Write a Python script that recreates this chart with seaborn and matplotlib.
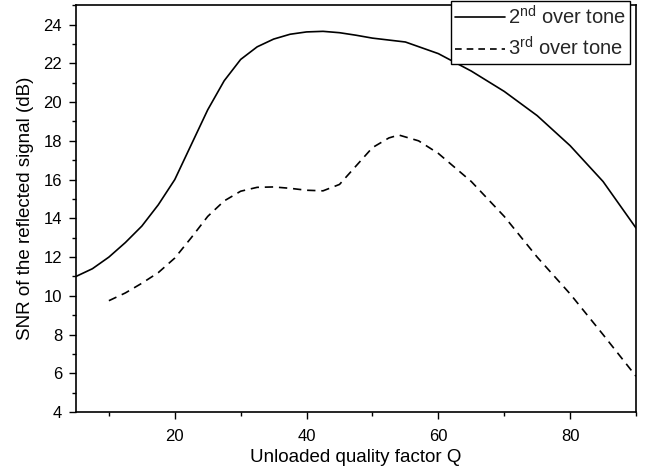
import matplotlib
matplotlib.use("Agg")
import matplotlib.pyplot as plt
import seaborn as sns
import pandas as pd
from matplotlib.ticker import MultipleLocator
from matplotlib.lines import Line2D

# Data
q_2nd = [5, 7.5, 10, 12.5, 15, 17.5, 20, 22.5, 25, 27.5, 30, 32.5, 35, 37.5, 40, 42.5,
         45, 47.5, 50, 55, 60, 65, 70, 75, 80, 85, 90]
snr_2nd = [11.0, 11.4, 12.0, 12.75, 13.6, 14.7, 16.0, 17.8, 19.6, 21.1, 22.2, 22.85, 23.25,
           23.5, 23.62, 23.65, 23.58, 23.45, 23.3, 23.1, 22.5, 21.6, 20.55, 19.3, 17.75, 15.9, 13.5]
q_3rd = [10, 12.5, 15, 17.5, 20, 22.5, 25, 27.5, 30, 32.5, 35, 37.5, 40, 42.5, 45, 47.5,
         50, 52.5, 54, 57, 60, 65, 70, 75, 80, 85, 90]
snr_3rd = [9.75, 10.15, 10.65, 11.2, 11.95, 13.0, 14.1, 14.9, 15.4, 15.6, 15.62, 15.55, 15.45,
           15.42, 15.75, 16.7, 17.65, 18.15, 18.3, 18.0, 17.35, 15.9, 14.1, 12.0, 10.1, 8.0, 5.85]
labels = [r"2$^{\mathrm{nd}}$ over tone", r"3$^{\mathrm{rd}}$ over tone"]

sns.set_theme(style="white")
plt.rcParams["font.family"] = ["Liberation Sans", "DejaVu Sans"]
plt.rcParams["mathtext.fontset"] = "custom"
plt.rcParams["mathtext.rm"] = "Liberation Sans"

df = pd.concat([
    pd.DataFrame({"Q": q_2nd, "SNR": snr_2nd, "series": labels[0]}),
    pd.DataFrame({"Q": q_3rd, "SNR": snr_3rd, "series": labels[1]}),
])

fig = plt.figure(figsize=(6.49, 4.71), dpi=100)
ax = fig.add_axes([0.117, 0.125, 0.863, 0.864])

sns.lineplot(data=df, x="Q", y="SNR", hue="series", style="series",
             palette=["black", "black"], dashes=[(None, None), (5, 3.5)],
             linewidth=1.2, ax=ax, legend=False, sort=False)

ax.set_xlim(5, 90)
ax.set_ylim(4, 25)
ax.xaxis.set_major_locator(MultipleLocator(20))
ax.xaxis.set_minor_locator(MultipleLocator(10))
ax.yaxis.set_major_locator(MultipleLocator(2))
ax.yaxis.set_minor_locator(MultipleLocator(1))
ax.tick_params(axis="both", which="major", direction="out", length=5, width=1,
               color="black", labelsize=12, bottom=True, left=True, top=False, right=False,
               labelcolor="black", pad=5)
ax.tick_params(axis="x", which="major", pad=7)
ax.tick_params(axis="both", which="minor", direction="out", length=3, width=1,
               color="black", bottom=True, left=True, top=False, right=False)
for s in ax.spines.values():
    s.set_color("black")
    s.set_linewidth(1.2)

ax.set_xlabel("Unloaded quality factor Q", fontsize=13.5, color="black", labelpad=4)
ax.set_ylabel("SNR of the reflected signal (dB)", fontsize=13.5, color="black", labelpad=7)

handles = [Line2D([], [], color="black", lw=1.2),
           Line2D([], [], color="black", lw=1.2, dashes=(4, 3))]
leg = ax.legend(handles, labels, loc="upper right", bbox_to_anchor=(0.99, 1.01),
                fontsize=14.5, frameon=True, fancybox=False, framealpha=1,
                edgecolor="black", handlelength=2.5, handletextpad=0.15,
                borderpad=0.2, labelspacing=0.4, borderaxespad=0)
leg.get_frame().set_linewidth(1.0)
leg.set_zorder(5)

fig.savefig("out.png", dpi=100)
